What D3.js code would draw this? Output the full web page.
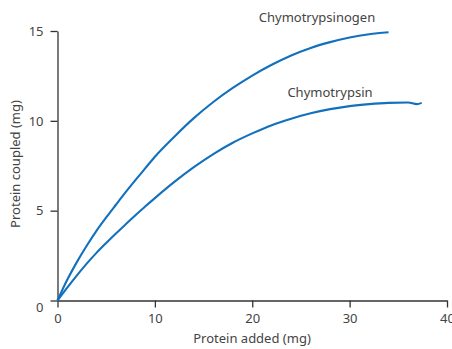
<!DOCTYPE html>
<html>
<head>
<meta charset="utf-8">
<script src="https://cdn.jsdelivr.net/npm/d3@7"></script>
<style>
  body { margin: 0; background: #fff; }
  svg text { font-family: "Noto Sans", sans-serif; fill: #444; }
</style>
</head>
<body>
<svg width="452" height="349"></svg>
<script>
const width = 452;
const height = 349;

// Protein added (mg) vs protein coupled (mg)
const zymogenX = [0, 1, 2, 3, 4, 5, 6, 7, 8, 9, 10, 12, 14, 16, 18, 20, 22, 24, 26, 28, 30, 32, 34];
const zymogenY = [0, 1.15, 2.15, 3.05, 3.88, 4.62, 5.33, 6.03, 6.7, 7.35, 8.0, 9.12, 10.15, 11.05, 11.83, 12.52, 13.12, 13.64, 14.06, 14.38, 14.64, 14.82, 14.93];

const trypsinX = [0, 1, 2, 3, 4, 5, 6, 7, 8, 9, 10, 12, 14, 16, 18, 20, 22, 24, 26, 28, 30, 32, 34, 36, 36.9, 37.4];
const trypsinY = [0, 0.72, 1.4, 2.05, 2.65, 3.2, 3.73, 4.24, 4.74, 5.23, 5.7, 6.6, 7.42, 8.15, 8.78, 9.3, 9.76, 10.12, 10.42, 10.65, 10.82, 10.93, 11.0, 11.02, 10.93, 11.0];

const xTicks = [0, 10, 20, 30, 40];
const yTicks = [0, 5, 10, 15];

const seriesLabels = ["Chymotrypsinogen", "Chymotrypsin"];

const svg = d3.select("svg");

const xScale = d3.scaleLinear().domain([0, 40]).range([57.5, 447]);
const yScale = d3.scaleLinear().domain([0, 15]).range([300.5, 31]);

// x axis
const xAxis = d3.axisBottom(xScale).tickValues(xTicks).tickSize(7).tickSizeOuter(0).tickPadding(6);
const gx = svg.append("g")
    .attr("transform", `translate(0, ${yScale(0)})`)
    .call(xAxis);
gx.select(".domain").attr("stroke", "#333").attr("stroke-width", 1.3);
gx.selectAll(".tick line").attr("stroke", "#333").attr("stroke-width", 1.3);
gx.selectAll(".tick text").attr("font-size", 13).attr("fill", "#444").style("font-family", "Noto Sans");

// y axis
const yAxis = d3.axisLeft(yScale).tickValues(yTicks).tickSize(7).tickSizeOuter(0).tickPadding(7);
const gy = svg.append("g")
    .attr("transform", `translate(${xScale(0)}, 0)`)
    .call(yAxis);
gy.select(".domain").attr("stroke", "#333").attr("stroke-width", 1.3);
gy.selectAll(".tick line").attr("stroke", "#333").attr("stroke-width", 1.3);
gy.selectAll(".tick text").attr("font-size", 13).attr("fill", "#444").style("font-family", "Noto Sans");
gy.selectAll(".tick").filter(d => d === 0).select("text").attr("dy", "0.85em");

// axis titles
svg.append("text")
    .attr("x", 252)
    .attr("y", 343)
    .attr("text-anchor", "middle")
    .attr("font-size", 13)
    .text("Protein added (mg)");

svg.append("text")
    .attr("transform", "translate(20, 164) rotate(-90)")
    .attr("text-anchor", "middle")
    .attr("font-size", 13)
    .text("Protein coupled (mg)");

// lines
const line = d3.line()
    .x(d => xScale(d[0]))
    .y(d => yScale(d[1]))
    .curve(d3.curveMonotoneX);

const series = [
    d3.zip(zymogenX, zymogenY),
    d3.zip(trypsinX, trypsinY)
];

svg.selectAll(".curve")
    .data(series)
    .enter()
    .append("path")
    .attr("class", "curve")
    .attr("d", line)
    .attr("fill", "none")
    .attr("stroke", "#1270bd")
    .attr("stroke-width", 2.1)
    .attr("stroke-linejoin", "round");

// series labels
svg.append("text")
    .attr("x", 317)
    .attr("y", 22)
    .attr("text-anchor", "middle")
    .attr("font-size", 13)
    .text(seriesLabels[0]);

svg.append("text")
    .attr("x", 330)
    .attr("y", 96.5)
    .attr("text-anchor", "middle")
    .attr("font-size", 13)
    .text(seriesLabels[1]);
</script>
</body>
</html>
